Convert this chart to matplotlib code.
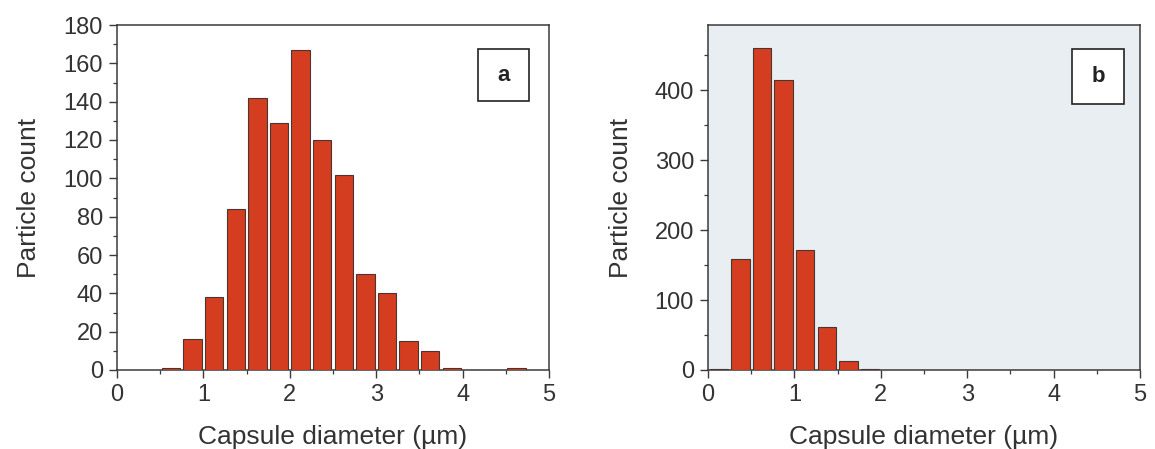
import matplotlib
matplotlib.use("Agg")
import matplotlib.pyplot as plt
from matplotlib.patches import Rectangle
from matplotlib.ticker import MultipleLocator
import numpy as np

plt.rcParams['font.family'] = ['Liberation Sans', 'DejaVu Sans']

# Panel a: bin centres (µm) and counts
bins_a = [0.625, 0.875, 1.125, 1.375, 1.625, 1.875, 2.125, 2.375, 2.625,
          2.875, 3.125, 3.375, 3.625, 3.875, 4.125, 4.375, 4.625]
counts_a = [1, 16, 38, 84, 142, 129, 167, 120, 102, 50, 40, 15, 10, 1, 0, 0, 1]

# Panel b
bins_b = [0.125, 0.375, 0.625, 0.875, 1.125, 1.375, 1.625, 1.875]
counts_b = [1, 158, 460, 415, 171, 61, 13, 1]

xticks = [0, 1, 2, 3, 4, 5]
yticks_a = [0, 20, 40, 60, 80, 100, 120, 140, 160, 180]
yticks_b = [0, 100, 200, 300, 400]

bar_color = '#d43d1f'
edge_color = '#4a3530'
axis_color = '#3a3a3a'
text_color = '#333333'

fig = plt.figure(figsize=(11.55, 4.49), dpi=100)
ax_a = fig.add_axes([117/1155, 79/449, 432/1155, 345/449])
ax_b = fig.add_axes([708/1155, 79/449, 432/1155, 345/449])


def style(ax, bins, counts, yticks, ylim, ymin_step, bg, label, box):
    ax.set_facecolor(bg)
    ax.bar(bins, counts, width=0.215, color=bar_color, edgecolor=edge_color,
           linewidth=0.8, zorder=3)
    ax.set_xlim(0, 5)
    ax.set_ylim(0, ylim)
    ax.set_xticks(xticks)
    ax.set_yticks(yticks)
    ax.xaxis.set_minor_locator(MultipleLocator(0.5))
    ax.yaxis.set_minor_locator(MultipleLocator(ymin_step))
    ax.tick_params(axis='both', which='major', direction='out', length=6,
                   width=1.0, color=axis_color, labelsize=17, labelcolor=text_color,
                   pad=4)
    ax.tick_params(axis='both', which='minor', direction='out', length=3,
                   width=0.9, color=axis_color)
    ax.tick_params(top=False, right=False)
    for s in ax.spines.values():
        s.set_color(axis_color)
        s.set_linewidth(1.1)
    ax.set_xlabel('Capsule diameter (µm)', fontsize=19, color=text_color, labelpad=14)
    ax.set_ylabel('Particle count', fontsize=19, color=text_color, labelpad=16)
    x0, y0, x1, y1 = box
    ax.add_patch(Rectangle((x0, y0), x1 - x0, y1 - y0, transform=ax.transAxes,
                           facecolor='white', edgecolor='#222222', linewidth=1.2,
                           zorder=5))
    ax.text((x0 + x1) / 2, (y0 + y1) / 2, label, transform=ax.transAxes,
            ha='center', va='center', fontsize=16, fontweight='bold',
            color='#222222', zorder=6)


style(ax_a, bins_a, counts_a, yticks_a, 180, 10, 'white', 'a',
      (0.836, 0.780, 0.954, 0.930))
style(ax_b, bins_b, counts_b, yticks_b, 493, 50, '#e8eef2', 'b',
      (0.843, 0.770, 0.963, 0.930))

fig.savefig('out.png', dpi=100)
